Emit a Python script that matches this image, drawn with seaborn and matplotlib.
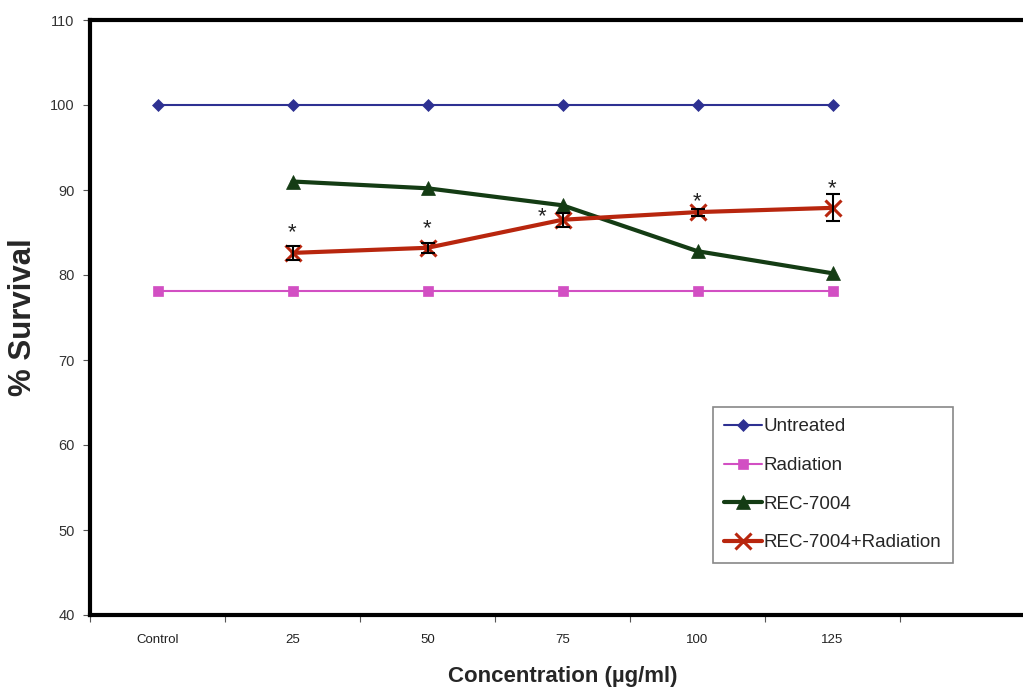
import numpy as np
import pandas as pd
import matplotlib
matplotlib.use('Agg')
import matplotlib.pyplot as plt
import seaborn as sns

# Data
categories = ['Control', '25', '50', '75', '100', '125']
untreated = [100, 100, 100, 100, 100, 100]
radiation = [78.1, 78.1, 78.1, 78.1, 78.1, 78.1]
rec7004 = [np.nan, 91.0, 90.2, 88.2, 82.8, 80.2]
rec_rad = [np.nan, 82.6, 83.2, 86.5, 87.4, 87.9]
rec_rad_err = [np.nan, 0.8, 0.6, 0.8, 0.4, 1.6]

series_names = ['Untreated', 'Radiation', 'REC-7004', 'REC-7004+Radiation']
series_values = [untreated, radiation, rec7004, rec_rad]

# long-format table for seaborn
rows = []
for name, vals in zip(series_names, series_values):
    for i, v in enumerate(vals):
        rows.append({'pos': i, 'series': name, 'survival': v})
df = pd.DataFrame(rows).dropna()

sns.set_style('white')
plt.rcParams['font.family'] = ['Liberation Sans', 'DejaVu Sans']

palette = {
    'Untreated': '#2E3192',
    'Radiation': '#D24FC3',
    'REC-7004': '#143C14',
    'REC-7004+Radiation': '#B8260E',
}
markers = {
    'Untreated': 'D',
    'Radiation': 's',
    'REC-7004': '^',
    'REC-7004+Radiation': 'x',
}
widths = {'Untreated': 1.5, 'Radiation': 1.5, 'REC-7004': 3, 'REC-7004+Radiation': 3}
msizes = {'Untreated': 6, 'Radiation': 7, 'REC-7004': 10, 'REC-7004+Radiation': 11}

fig = plt.figure(figsize=(10.23, 6.88), dpi=100)
ax = fig.add_axes([90 / 1023, 1 - 615 / 688, 945 / 1023, 595 / 688])

for name in series_names:
    sub = df[df['series'] == name]
    sns.lineplot(data=sub, x='pos', y='survival', color=palette[name],
                 marker=markers[name], markersize=msizes[name], linewidth=widths[name],
                 markeredgewidth=2.2 if name == 'REC-7004+Radiation' else 0.5,
                 markeredgecolor=palette[name],
                 label=name, ax=ax, errorbar=None, sort=True)

# error bars for combined treatment
xpos = np.arange(len(categories))
ax.errorbar(xpos, rec_rad, yerr=rec_rad_err, fmt='none', ecolor='black',
            elinewidth=1.5, capsize=5, capthick=1.5, zorder=5)

# significance asterisks
star_dx = [0, 0, 0, -0.15, 0, 0]
star_dy = [1.6, 1.6, 1.6, -0.4, 0.8, 0.7]
for i in range(1, len(categories)):
    ax.text(xpos[i] + star_dx[i], rec_rad[i] + rec_rad_err[i] + star_dy[i], '*',
            ha='center', va='center', fontsize=16, color='#222222', zorder=10)

ax.set_xlim(-0.5, 6.5)
ax.set_ylim(40, 110)
ax.set_yticks(range(40, 111, 10))
ax.set_xticks(xpos)
ax.set_xticklabels(categories, fontsize=9.5)
ax.set_xticks(np.arange(-0.5, 6.5, 1.0), minor=True)
ax.tick_params(axis='x', which='major', length=0, pad=14, colors='#222222')
ax.tick_params(axis='x', which='minor', length=5, width=0.8, color='#555555', bottom=True)
ax.tick_params(axis='y', length=5, width=0.8, color='#555555', labelsize=10.5,
               labelcolor='#333333', left=True, pad=6)

for side in ['left', 'bottom', 'top', 'right']:
    ax.spines[side].set_linewidth(3)
    ax.spines[side].set_color('black')

ax.set_xlabel('Concentration (µg/ml)', fontsize=16, fontweight='bold', labelpad=14)
ax.set_ylabel('% Survival', fontsize=22.5, fontweight='bold')
ax.yaxis.set_label_coords((38 - 90) / 945, 0.5)

leg = ax.legend(loc='upper left',
                bbox_to_anchor=((713 - 90) / 945, (615 - 407) / 595),
                fontsize=13.5, frameon=True, fancybox=False, edgecolor='#888888',
                framealpha=1, handlelength=2.0, handletextpad=0.1, borderpad=0.6,
                labelspacing=1.15, borderaxespad=0)
leg.get_frame().set_linewidth(1.2)

fig.savefig('out.png', dpi=100)
